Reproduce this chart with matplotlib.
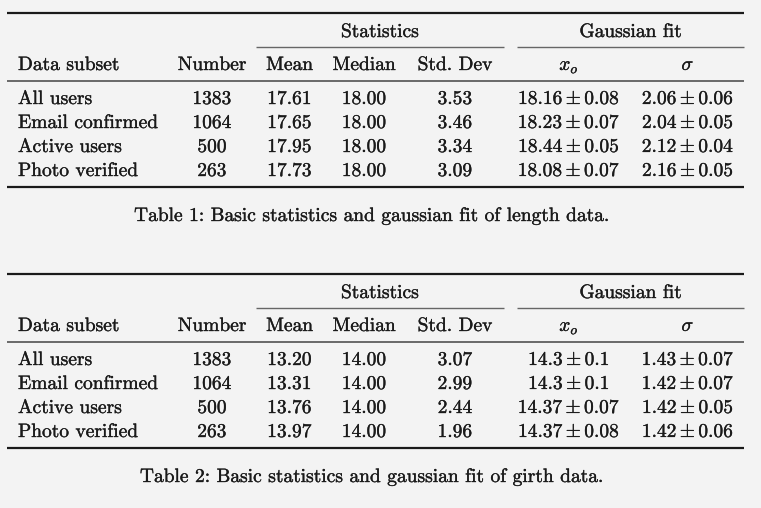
import matplotlib
matplotlib.use('Agg')
import matplotlib.pyplot as plt
import matplotlib.patheffects as pe

# ---- datos de las tablas ----
subsets = ['All users', 'Email confirmed', 'Active users', 'Photo verified']
numbers = ['1383', '1064', '500', '263']

mean_len = ['17.61', '17.65', '17.95', '17.73']
median_len = ['18.00', '18.00', '18.00', '18.00']
std_len = ['3.53', '3.46', '3.34', '3.09']
x0_len = ['18.16', '18.23', '18.44', '18.08']
x0_err_len = ['0.08', '0.07', '0.05', '0.07']
sig_len = ['2.06', '2.04', '2.12', '2.16']
sig_err_len = ['0.06', '0.05', '0.04', '0.05']

mean_gir = ['13.20', '13.31', '13.76', '13.97']
median_gir = ['14.00', '14.00', '14.00', '14.00']
std_gir = ['3.07', '2.99', '2.44', '1.96']
x0_gir = ['14.3', '14.3', '14.37', '14.37']
x0_err_gir = ['0.1', '0.1', '0.07', '0.08']
sig_gir = ['1.43', '1.42', '1.42', '1.42']
sig_err_gir = ['0.07', '0.07', '0.05', '0.06']

captions = ['Table 1: Basic statistics and gaussian fit of length data.',
            'Table 2: Basic statistics and gaussian fit of girth data.']

plt.rcParams['mathtext.fontset'] = 'cm'
plt.rcParams['font.family'] = ['cmr10', 'DejaVu Serif']

fs = 14.0
col = '#1a1a1a'
bg = '#f3f3f3'
grueso = [pe.withStroke(linewidth=0.25, foreground=col)]

fig = plt.figure(figsize=(7.61, 5.08), dpi=100, facecolor=bg)
ax = fig.add_axes([0, 0, 1, 1])
ax.set_xlim(0, 761)
ax.set_ylim(508, 0)
ax.axis('off')
ax.set_facecolor(bg)

# posiciones de columnas (pixeles)
x_subset = 18
x_num, x_mean, x_med, x_std, x_x0, x_sig = 212, 289.5, 364, 455, 569, 688


def tabla(y0, mean, median, std, x0, x0e, sig, sige, caption):
    # reglas
    ax.plot([7, 744], [y0, y0], color=col, lw=1.6, solid_capstyle='butt')
    ax.plot([256, 504], [y0 + 34, y0 + 34], color='#666666', lw=1.0, solid_capstyle='butt')
    ax.plot([517, 744], [y0 + 34, y0 + 34], color='#666666', lw=1.0, solid_capstyle='butt')
    ax.plot([7, 744], [y0 + 68, y0 + 68], color='#444444', lw=1.1, solid_capstyle='butt')
    ax.plot([7, 744], [y0 + 174, y0 + 174], color=col, lw=1.6, solid_capstyle='butt')

    kw = dict(fontsize=fs, color=col, va='baseline', path_effects=grueso)
    ax.text(380, y0 + 24, 'Statistics', ha='center', **kw)
    ax.text(630.5, y0 + 24, 'Gaussian fit', ha='center', **kw)

    yh = y0 + 57
    ax.text(x_subset, yh, 'Data subset', ha='left', **kw)
    ax.text(x_num, yh, 'Number', ha='center', **kw)
    ax.text(x_mean, yh, 'Mean', ha='center', **kw)
    ax.text(x_med, yh, 'Median', ha='center', **kw)
    ax.text(x_std, yh, 'Std. Dev', ha='center', **kw)
    ax.text(x_x0, yh, r'$x_o$', ha='center', **kw)
    ax.text(x_sig, yh, r'$\sigma$', ha='center', **kw)

    for i in range(len(subsets)):
        yr = y0 + 91 + 24 * i
        ax.text(x_subset, yr, subsets[i], ha='left', **kw)
        ax.text(x_num, yr, numbers[i], ha='center', **kw)
        ax.text(x_mean, yr, mean[i], ha='center', **kw)
        ax.text(x_med, yr, median[i], ha='center', **kw)
        ax.text(x_std, yr, std[i], ha='center', **kw)
        ax.text(x_x0, yr, r'$%s\pm%s$' % (x0[i], x0e[i]), ha='center', **kw)
        ax.text(x_sig, yr, r'$%s\pm%s$' % (sig[i], sige[i]), ha='center', **kw)

    ax.text(371.5, y0 + 208, caption, ha='center', **kw)


tabla(13, mean_len, median_len, std_len, x0_len, x0_err_len, sig_len, sig_err_len, captions[0])
tabla(274, mean_gir, median_gir, std_gir, x0_gir, x0_err_gir, sig_gir, sig_err_gir, captions[1])

plt.savefig('out.png', dpi=100, facecolor=bg)
